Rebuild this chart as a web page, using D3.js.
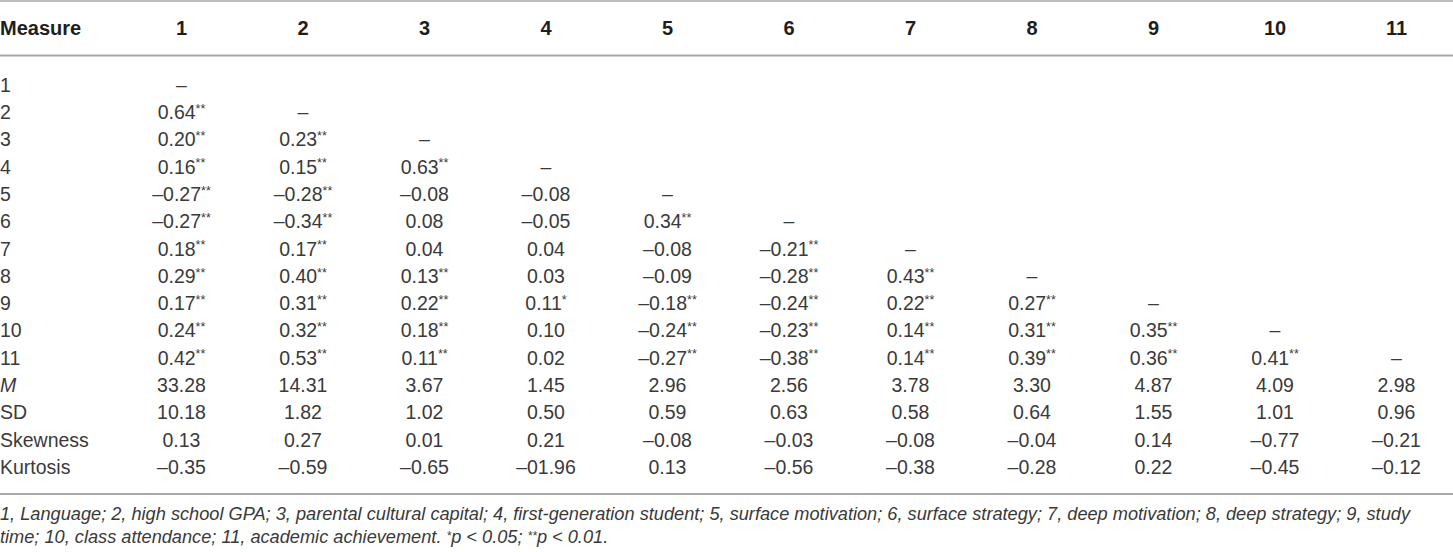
<!DOCTYPE html>
<html>
<head>
<meta charset="utf-8">
<script src="https://cdn.jsdelivr.net/npm/d3@7"></script>
<style>
  body { margin: 0; background: #fff; }
  svg { display: block; }
</style>
</head>
<body>
<svg id="chart" width="1453" height="552"></svg>
<script>
// table content
let columns = ["1", "2", "3", "4", "5", "6", "7", "8", "9", "10", "11"];
let rowLabels = ["1", "2", "3", "4", "5", "6", "7", "8", "9", "10", "11", "M", "SD", "Skewness", "Kurtosis"];

// lower triangle of correlations, "–" on the diagonal
let correlations = [
  ["–"],
  ["0.64**", "–"],
  ["0.20**", "0.23**", "–"],
  ["0.16**", "0.15**", "0.63**", "–"],
  ["–0.27**", "–0.28**", "–0.08", "–0.08", "–"],
  ["–0.27**", "–0.34**", "0.08", "–0.05", "0.34**", "–"],
  ["0.18**", "0.17**", "0.04", "0.04", "–0.08", "–0.21**", "–"],
  ["0.29**", "0.40**", "0.13**", "0.03", "–0.09", "–0.28**", "0.43**", "–"],
  ["0.17**", "0.31**", "0.22**", "0.11*", "–0.18**", "–0.24**", "0.22**", "0.27**", "–"],
  ["0.24**", "0.32**", "0.18**", "0.10", "–0.24**", "–0.23**", "0.14**", "0.31**", "0.35**", "–"],
  ["0.42**", "0.53**", "0.11**", "0.02", "–0.27**", "–0.38**", "0.14**", "0.39**", "0.36**", "0.41**", "–"]
];

let means = ["33.28", "14.31", "3.67", "1.45", "2.96", "2.56", "3.78", "3.30", "4.87", "4.09", "2.98"];
let sds = ["10.18", "1.82", "1.02", "0.50", "0.59", "0.63", "0.58", "0.64", "1.55", "1.01", "0.96"];
let skewness = ["0.13", "0.27", "0.01", "0.21", "–0.08", "–0.03", "–0.08", "–0.04", "0.14", "–0.77", "–0.21"];
let kurtosis = ["–0.35", "–0.59", "–0.65", "–01.96", "0.13", "–0.56", "–0.38", "–0.28", "0.22", "–0.45", "–0.12"];

let footLines = [
  "1, Language; 2, high school GPA; 3, parental cultural capital; 4, first-generation student; 5, surface motivation; 6, surface strategy; 7, deep motivation; 8, deep strategy; 9, study",
  "time; 10, class attendance; 11, academic achievement. *p < 0.05; **p < 0.01."
];

let svg = d3.select("#chart"),
    width = +svg.attr("width");

let font = "'Liberation Sans', Arial, Helvetica, sans-serif";
let textColor = "#3a3a3a";

let xScale = d3.scalePoint().domain(columns).range([181.5, 1396.5]);
let yScale = d3.scalePoint().domain(rowLabels).range([85, 467]);

// rules
let rules = [
  { y: 1, w: 1.5 },
  { y: 55.5, w: 2 },
  { y: 494, w: 2 }
];
svg.selectAll("line.rule")
  .data(rules)
  .enter()
  .append("line")
  .attr("class", "rule")
  .attr("x1", 0).attr("x2", width)
  .attr("y1", d => d.y).attr("y2", d => d.y)
  .attr("stroke", "#a8a8a8")
  .attr("stroke-width", d => d.w);

// header
let header = svg.append("g")
  .attr("font-family", font)
  .attr("font-weight", "bold")
  .attr("font-size", 20)
  .attr("fill", "#1e1e1e");

header.append("text").attr("x", 0).attr("y", 28).attr("dy", "0.35em").text("Measure");
header.selectAll("text.col")
  .data(columns)
  .enter()
  .append("text")
  .attr("class", "col")
  .attr("x", d => xScale(d))
  .attr("y", 28)
  .attr("dy", "0.35em")
  .attr("text-anchor", "middle")
  .text(d => d);

// body
let body = svg.append("g")
  .attr("font-family", font)
  .attr("font-size", 19.5)
  .attr("fill", textColor);

body.selectAll("text.rowlabel")
  .data(rowLabels)
  .enter()
  .append("text")
  .attr("class", "rowlabel")
  .attr("x", 0)
  .attr("y", d => yScale(d))
  .attr("dy", "0.35em")
  .attr("font-style", d => d === "M" ? "italic" : null)
  .text(d => d);

// flatten all cells
let cells = [];
correlations.forEach((row, i) => {
  row.forEach((v, j) => cells.push({ row: rowLabels[i], col: columns[j], value: v }));
});
[means, sds, skewness, kurtosis].forEach((arr, k) => {
  arr.forEach((v, j) => cells.push({ row: rowLabels[11 + k], col: columns[j], value: v }));
});

let cellText = body.selectAll("text.cell")
  .data(cells)
  .enter()
  .append("text")
  .attr("class", "cell")
  .attr("x", d => xScale(d.col))
  .attr("y", d => yScale(d.row))
  .attr("dy", "0.35em")
  .attr("text-anchor", "middle");

cellText.each(function (d) {
  let m = d.value.match(/^([^*]*)(\**)$/);
  let t = d3.select(this);
  t.append("tspan").text(m[1]);
  if (m[2]) {
    t.append("tspan").attr("font-size", 12.5).attr("dy", "-0.5em").text(m[2]);
  }
});

// footnote
let foot = svg.append("g")
  .attr("font-family", font)
  .attr("font-style", "italic")
  .attr("font-size", 18.2)
  .attr("fill", textColor);

foot.selectAll("text")
  .data(footLines)
  .enter()
  .append("text")
  .attr("x", 0)
  .attr("y", (d, i) => 514 + i * 22.5)
  .attr("dy", "0.35em")
  .each(function (d) {
    let t = d3.select(this);
    // asterisks slightly raised; the shift is undone on the next part
    let back = 0;
    d.split(/(\*+)/).forEach(part => {
      if (!part) return;
      if (/^\*+$/.test(part)) {
        t.append("tspan").attr("font-size", 12).attr("dy", -3).text(part);
        back = 3;
      } else {
        t.append("tspan").attr("dy", back || null).text(part);
        back = 0;
      }
    });
  });
</script>
</body>
</html>
